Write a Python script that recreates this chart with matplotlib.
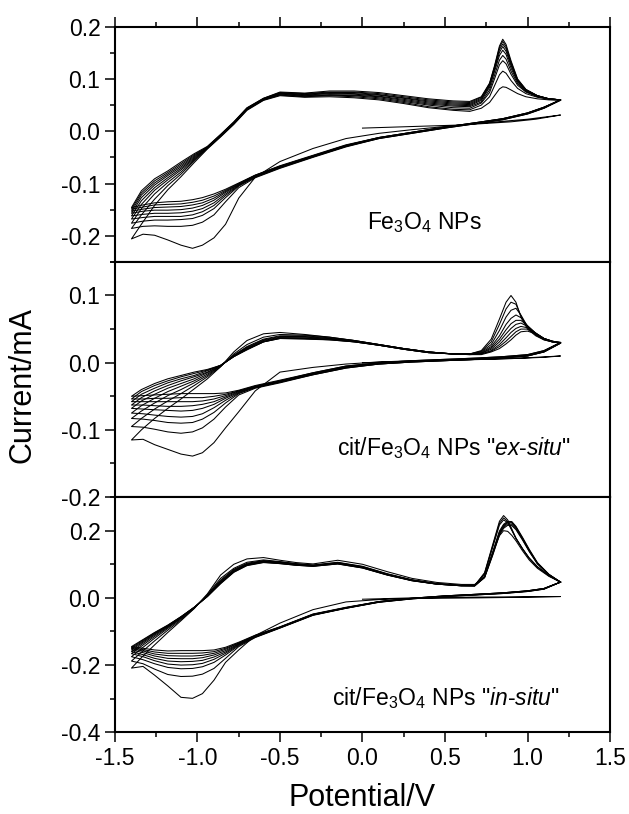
import matplotlib
matplotlib.use('Agg')
import matplotlib.pyplot as plt
from matplotlib.ticker import MultipleLocator, FormatStrFormatter

plt.rcParams['font.family'] = ['Liberation Sans', 'DejaVu Sans']
plt.rcParams['mathtext.fontset'] = 'custom'
plt.rcParams['mathtext.rm'] = 'Liberation Sans'
plt.rcParams['mathtext.it'] = 'Liberation Sans:italic'
plt.rcParams['mathtext.default'] = 'regular'
plt.rcParams['axes.unicode_minus'] = False

# ---------------- top panel: Fe3O4 NPs ----------------
top_E_init = [0.0, 0.3, 0.6, 0.9, 1.05, 1.2]
top_I_init = [0.006, 0.009, 0.012, 0.018, 0.023, 0.031]

top_E_cat = [1.2, 1.1, 1.0, 0.85, 0.7, 0.5, 0.3, 0.1, -0.1, -0.3, -0.5, -0.65,
             -0.75, -0.83, -0.9, -0.97, -1.03, -1.1, -1.18, -1.26, -1.33, -1.4]
top_I_cat = [
    [0.031, 0.027, 0.023, 0.019, 0.015, 0.009, 0.003, -0.004, -0.014, -0.033, -0.058, -0.088,
     -0.128, -0.178, -0.204, -0.218, -0.224, -0.218, -0.208, -0.199, -0.197, -0.206],
    [0.059, 0.044, 0.033, 0.022, 0.015, 0.006, -0.004, -0.014, -0.030, -0.050, -0.071, -0.089,
     -0.108, -0.135, -0.160, -0.174, -0.180, -0.182, -0.182, -0.181, -0.182, -0.186],
    [0.060, 0.044, 0.033, 0.022, 0.015, 0.006, -0.004, -0.014, -0.029, -0.049, -0.070, -0.088,
     -0.105, -0.127, -0.148, -0.161, -0.167, -0.169, -0.170, -0.170, -0.172, -0.176],
    [0.060, 0.045, 0.034, 0.023, 0.016, 0.007, -0.003, -0.013, -0.029, -0.049, -0.069, -0.087,
     -0.104, -0.123, -0.142, -0.154, -0.160, -0.163, -0.163, -0.163, -0.165, -0.168],
    [0.060, 0.045, 0.034, 0.023, 0.016, 0.007, -0.003, -0.013, -0.028, -0.048, -0.068, -0.086,
     -0.103, -0.120, -0.137, -0.148, -0.153, -0.156, -0.157, -0.157, -0.159, -0.162],
    [0.060, 0.045, 0.034, 0.023, 0.016, 0.007, -0.003, -0.013, -0.028, -0.048, -0.068, -0.085,
     -0.102, -0.117, -0.132, -0.142, -0.147, -0.150, -0.151, -0.151, -0.153, -0.157],
    [0.060, 0.046, 0.035, 0.024, 0.017, 0.008, -0.002, -0.012, -0.027, -0.047, -0.067, -0.085,
     -0.101, -0.115, -0.128, -0.137, -0.141, -0.144, -0.145, -0.146, -0.149, -0.153],
    [0.060, 0.046, 0.035, 0.024, 0.017, 0.008, -0.002, -0.012, -0.027, -0.047, -0.067, -0.084,
     -0.100, -0.113, -0.124, -0.132, -0.136, -0.139, -0.140, -0.141, -0.145, -0.149],
    [0.060, 0.046, 0.035, 0.024, 0.017, 0.008, -0.002, -0.012, -0.026, -0.046, -0.066, -0.084,
     -0.099, -0.111, -0.120, -0.127, -0.131, -0.134, -0.135, -0.137, -0.141, -0.146],
]

top_E_an = [-1.4, -1.34, -1.26, -1.18, -1.1, -1.02, -0.94,
            -0.86, -0.78, -0.7, -0.6, -0.5, -0.35, -0.2, -0.05, 0.1, 0.25, 0.4, 0.55, 0.65,
            0.72, 0.77, 0.80, 0.83, 0.85, 0.87, 0.90, 0.94, 0.99, 1.06, 1.13, 1.2]
top_I_an = [
    [-0.206, -0.178, -0.142, -0.112, -0.087, -0.060, -0.034,
     -0.011, 0.013, 0.040, 0.059, 0.068, 0.065, 0.066, 0.064, 0.060, 0.053, 0.045, 0.040, 0.038,
     0.044, 0.055, 0.068, 0.081, 0.085, 0.084, 0.079, 0.072, 0.066, 0.062, 0.060, 0.059],
    [-0.186, -0.160, -0.130, -0.104, -0.082, -0.057, -0.033,
     -0.010, 0.014, 0.041, 0.060, 0.069, 0.066, 0.068, 0.066, 0.062, 0.055, 0.047, 0.042, 0.041,
     0.050, 0.066, 0.087, 0.108, 0.115, 0.111, 0.097, 0.082, 0.072, 0.065, 0.061, 0.060],
    [-0.176, -0.148, -0.120, -0.098, -0.078, -0.055, -0.032,
     -0.009, 0.015, 0.042, 0.060, 0.070, 0.067, 0.069, 0.068, 0.064, 0.057, 0.050, 0.045, 0.044,
     0.054, 0.074, 0.100, 0.127, 0.135, 0.129, 0.109, 0.088, 0.075, 0.066, 0.062, 0.060],
    [-0.168, -0.140, -0.113, -0.093, -0.074, -0.053, -0.032,
     -0.009, 0.015, 0.042, 0.061, 0.071, 0.068, 0.070, 0.069, 0.066, 0.059, 0.052, 0.048, 0.047,
     0.056, 0.079, 0.107, 0.136, 0.145, 0.138, 0.115, 0.091, 0.076, 0.067, 0.062, 0.060],
    [-0.162, -0.133, -0.108, -0.089, -0.071, -0.051, -0.031,
     -0.008, 0.016, 0.043, 0.061, 0.072, 0.069, 0.072, 0.071, 0.067, 0.061, 0.054, 0.050, 0.049,
     0.059, 0.084, 0.114, 0.145, 0.155, 0.147, 0.121, 0.094, 0.077, 0.067, 0.062, 0.060],
    [-0.157, -0.127, -0.103, -0.085, -0.068, -0.049, -0.031,
     -0.008, 0.016, 0.043, 0.062, 0.073, 0.070, 0.073, 0.072, 0.069, 0.063, 0.056, 0.052, 0.051,
     0.061, 0.087, 0.118, 0.151, 0.162, 0.153, 0.126, 0.096, 0.078, 0.068, 0.062, 0.060],
    [-0.153, -0.122, -0.099, -0.082, -0.065, -0.047, -0.030,
     -0.007, 0.017, 0.044, 0.062, 0.073, 0.071, 0.074, 0.074, 0.070, 0.064, 0.058, 0.054, 0.053,
     0.063, 0.089, 0.121, 0.156, 0.167, 0.158, 0.129, 0.097, 0.079, 0.068, 0.062, 0.060],
    [-0.149, -0.118, -0.095, -0.079, -0.062, -0.045, -0.030,
     -0.007, 0.017, 0.044, 0.063, 0.074, 0.072, 0.075, 0.075, 0.072, 0.066, 0.060, 0.056, 0.055,
     0.065, 0.091, 0.123, 0.160, 0.172, 0.162, 0.132, 0.099, 0.080, 0.068, 0.062, 0.060],
    [-0.146, -0.114, -0.091, -0.076, -0.059, -0.043, -0.029,
     -0.006, 0.018, 0.045, 0.063, 0.075, 0.073, 0.077, 0.077, 0.074, 0.068, 0.062, 0.058, 0.057,
     0.066, 0.092, 0.125, 0.163, 0.176, 0.166, 0.135, 0.100, 0.080, 0.068, 0.062, 0.060],
]

# ---------------- middle panel: cit/Fe3O4 "ex-situ" ----------------
mid_E_init = [0.0, 0.3, 0.6, 0.9, 1.2]
mid_I_init = [0.000, 0.002, 0.004, 0.006, 0.010]

mid_E_cat = [1.2, 1.1, 1.0, 0.85, 0.7, 0.5, 0.3, 0.1, -0.1, -0.3, -0.5, -0.65,
             -0.75, -0.83, -0.9, -0.97, -1.03, -1.1, -1.18, -1.26, -1.33, -1.4]
mid_I_cat = [
    [0.010, 0.008, 0.007, 0.006, 0.005, 0.004, 0.003, 0.001, -0.002, -0.007, -0.014, -0.042,
     -0.073, -0.097, -0.119, -0.134, -0.139, -0.136, -0.129, -0.122, -0.114, -0.115],
    [0.029, 0.016, 0.010, 0.007, 0.005, 0.003, 0.001, -0.002, -0.008, -0.018, -0.030, -0.038,
     -0.048, -0.066, -0.084, -0.097, -0.103, -0.105, -0.103, -0.099, -0.096, -0.095],
    [0.029, 0.016, 0.010, 0.007, 0.005, 0.003, 0.001, -0.002, -0.008, -0.018, -0.029, -0.037,
     -0.046, -0.060, -0.074, -0.084, -0.089, -0.090, -0.089, -0.086, -0.084, -0.083],
    [0.029, 0.016, 0.010, 0.007, 0.005, 0.003, 0.001, -0.002, -0.007, -0.017, -0.029, -0.037,
     -0.045, -0.056, -0.067, -0.076, -0.080, -0.081, -0.080, -0.078, -0.076, -0.075],
    [0.030, 0.017, 0.011, 0.008, 0.006, 0.004, 0.002, -0.001, -0.007, -0.017, -0.028, -0.036,
     -0.044, -0.053, -0.062, -0.068, -0.071, -0.072, -0.071, -0.070, -0.069, -0.068],
    [0.030, 0.017, 0.011, 0.008, 0.006, 0.004, 0.002, -0.001, -0.006, -0.016, -0.028, -0.036,
     -0.043, -0.051, -0.058, -0.062, -0.064, -0.065, -0.065, -0.064, -0.063, -0.063],
    [0.030, 0.017, 0.011, 0.008, 0.006, 0.004, 0.002, -0.001, -0.006, -0.016, -0.027, -0.035,
     -0.042, -0.049, -0.054, -0.057, -0.058, -0.058, -0.058, -0.058, -0.058, -0.058],
    [0.030, 0.018, 0.012, 0.009, 0.007, 0.005, 0.003, 0.000, -0.005, -0.015, -0.027, -0.035,
     -0.042, -0.047, -0.050, -0.052, -0.052, -0.052, -0.053, -0.053, -0.054, -0.054],
    [0.030, 0.018, 0.012, 0.009, 0.007, 0.005, 0.003, 0.000, -0.005, -0.015, -0.026, -0.034,
     -0.041, -0.045, -0.046, -0.046, -0.046, -0.046, -0.047, -0.048, -0.049, -0.050],
]

mid_E_an = [-1.4, -1.34, -1.26, -1.18, -1.1, -1.02, -0.94,
            -0.86, -0.78, -0.7, -0.6, -0.5, -0.35, -0.2, -0.05, 0.1, 0.25, 0.4, 0.55, 0.65,
            0.72, 0.78, 0.83, 0.87, 0.90, 0.93, 0.96, 1.0, 1.05, 1.1, 1.15, 1.2]
mid_I_an = [
    [-0.115, -0.100, -0.083, -0.068, -0.054, -0.039, -0.024,
     -0.006, 0.016, 0.033, 0.043, 0.045, 0.042, 0.038, 0.033, 0.027, 0.021, 0.016, 0.013, 0.012,
     0.012, 0.016, 0.021, 0.028, 0.034, 0.041, 0.046, 0.047, 0.043, 0.036, 0.031, 0.029],
    [-0.095, -0.083, -0.069, -0.057, -0.046, -0.034, -0.021,
     -0.006, 0.013, 0.027, 0.038, 0.042, 0.041, 0.038, 0.033, 0.027, 0.021, 0.016, 0.013, 0.012,
     0.013, 0.017, 0.024, 0.032, 0.039, 0.046, 0.050, 0.050, 0.043, 0.036, 0.032, 0.029],
    [-0.083, -0.072, -0.060, -0.049, -0.040, -0.030, -0.019,
     -0.005, 0.011, 0.024, 0.035, 0.040, 0.040, 0.037, 0.033, 0.027, 0.021, 0.016, 0.013, 0.013,
     0.013, 0.018, 0.027, 0.037, 0.045, 0.051, 0.054, 0.052, 0.044, 0.036, 0.032, 0.029],
    [-0.075, -0.064, -0.053, -0.043, -0.035, -0.027, -0.017,
     -0.005, 0.011, 0.023, 0.034, 0.039, 0.039, 0.036, 0.032, 0.027, 0.021, 0.016, 0.013, 0.013,
     0.014, 0.020, 0.031, 0.043, 0.051, 0.057, 0.059, 0.054, 0.044, 0.036, 0.032, 0.030],
    [-0.068, -0.057, -0.047, -0.038, -0.031, -0.024, -0.015,
     -0.005, 0.010, 0.022, 0.033, 0.038, 0.038, 0.036, 0.032, 0.026, 0.021, 0.016, 0.013, 0.013,
     0.014, 0.022, 0.035, 0.049, 0.058, 0.063, 0.063, 0.055, 0.044, 0.036, 0.032, 0.030],
    [-0.063, -0.052, -0.042, -0.034, -0.027, -0.021, -0.014,
     -0.004, 0.010, 0.021, 0.032, 0.037, 0.037, 0.035, 0.032, 0.026, 0.020, 0.015, 0.013, 0.013,
     0.015, 0.024, 0.040, 0.057, 0.066, 0.071, 0.067, 0.055, 0.043, 0.035, 0.031, 0.030],
    [-0.058, -0.047, -0.038, -0.030, -0.024, -0.019, -0.012,
     -0.004, 0.009, 0.020, 0.031, 0.037, 0.036, 0.035, 0.031, 0.026, 0.020, 0.015, 0.013, 0.013,
     0.016, 0.027, 0.048, 0.068, 0.078, 0.081, 0.071, 0.054, 0.042, 0.035, 0.031, 0.030],
    [-0.054, -0.043, -0.034, -0.027, -0.021, -0.016, -0.011,
     -0.004, 0.009, 0.020, 0.031, 0.036, 0.036, 0.034, 0.031, 0.026, 0.020, 0.015, 0.013, 0.013,
     0.017, 0.031, 0.057, 0.080, 0.090, 0.087, 0.070, 0.052, 0.041, 0.034, 0.031, 0.030],
    [-0.050, -0.040, -0.031, -0.024, -0.019, -0.014, -0.010,
     -0.004, 0.009, 0.019, 0.031, 0.036, 0.035, 0.034, 0.031, 0.026, 0.020, 0.015, 0.013, 0.013,
     0.018, 0.035, 0.065, 0.090, 0.100, 0.090, 0.068, 0.050, 0.040, 0.034, 0.031, 0.030],
]

# ---------------- bottom panel: cit/Fe3O4 "in-situ" ----------------
bot_E_init = [0.0, 0.3, 0.6, 0.9, 1.2]
bot_I_init = [-0.004, 0.000, 0.002, 0.003, 0.004]

bot_E_cat = [1.2, 1.1, 1.0, 0.85, 0.7, 0.5, 0.3, 0.1, -0.1, -0.3, -0.5, -0.65,
             -0.75, -0.83, -0.9, -0.97, -1.03, -1.1, -1.18, -1.26, -1.33, -1.4]
bot_I_cat = [
    [0.004, 0.003, 0.002, 0.001, 0.000, -0.001, -0.002, -0.005, -0.012, -0.035, -0.075, -0.112,
     -0.155, -0.192, -0.245, -0.285, -0.299, -0.296, -0.262, -0.230, -0.204, -0.209],
    [0.047, 0.026, 0.019, 0.013, 0.009, 0.004, -0.003, -0.013, -0.031, -0.052, -0.090, -0.118,
     -0.145, -0.180, -0.210, -0.227, -0.233, -0.234, -0.228, -0.212, -0.196, -0.188],
    [0.047, 0.026, 0.019, 0.013, 0.009, 0.004, -0.003, -0.013, -0.031, -0.051, -0.089, -0.117,
     -0.142, -0.170, -0.192, -0.205, -0.210, -0.211, -0.207, -0.196, -0.184, -0.175],
    [0.047, 0.027, 0.020, 0.014, 0.010, 0.005, -0.002, -0.012, -0.030, -0.051, -0.089, -0.116,
     -0.140, -0.165, -0.183, -0.195, -0.199, -0.200, -0.197, -0.187, -0.175, -0.166],
    [0.047, 0.027, 0.020, 0.014, 0.010, 0.005, -0.002, -0.012, -0.030, -0.050, -0.088, -0.115,
     -0.138, -0.161, -0.176, -0.186, -0.189, -0.190, -0.188, -0.180, -0.169, -0.160],
    [0.047, 0.027, 0.020, 0.014, 0.010, 0.005, -0.002, -0.012, -0.030, -0.050, -0.088, -0.114,
     -0.137, -0.157, -0.170, -0.178, -0.181, -0.181, -0.180, -0.173, -0.163, -0.155],
    [0.047, 0.028, 0.021, 0.015, 0.011, 0.006, -0.001, -0.011, -0.029, -0.049, -0.087, -0.113,
     -0.135, -0.153, -0.165, -0.171, -0.173, -0.173, -0.172, -0.167, -0.158, -0.151],
    [0.047, 0.028, 0.021, 0.015, 0.011, 0.006, -0.001, -0.011, -0.029, -0.049, -0.087, -0.112,
     -0.134, -0.150, -0.160, -0.164, -0.165, -0.165, -0.165, -0.161, -0.154, -0.148],
    [0.047, 0.028, 0.021, 0.015, 0.011, 0.006, -0.001, -0.011, -0.028, -0.048, -0.086, -0.111,
     -0.132, -0.147, -0.155, -0.157, -0.157, -0.157, -0.158, -0.155, -0.150, -0.145],
]

bot_E_an = [-1.4, -1.34, -1.26, -1.18, -1.1, -1.02, -0.94,
            -0.86, -0.78, -0.7, -0.6, -0.5, -0.4, -0.3, -0.15, 0.0, 0.15, 0.3, 0.45, 0.6,
            0.68, 0.74, 0.79, 0.83, 0.855, 0.88, 0.905, 0.93, 0.97, 1.01, 1.06, 1.13, 1.2]
bot_I_an = [
    [-0.209, -0.178, -0.140, -0.103, -0.068, -0.032, 0.012,
     0.068, 0.100, 0.116, 0.120, 0.112, 0.105, 0.101, 0.112, 0.100, 0.078, 0.058, 0.046, 0.040,
     0.040, 0.064, 0.135, 0.185, 0.200, 0.198, 0.186, 0.170, 0.140, 0.113, 0.088, 0.064, 0.047],
    [-0.188, -0.162, -0.128, -0.096, -0.065, -0.031, 0.010,
     0.058, 0.088, 0.106, 0.113, 0.108, 0.102, 0.098, 0.106, 0.094, 0.072, 0.054, 0.043, 0.037,
     0.037, 0.075, 0.160, 0.228, 0.245, 0.232, 0.205, 0.178, 0.146, 0.118, 0.092, 0.066, 0.047],
    [-0.175, -0.151, -0.120, -0.091, -0.062, -0.030, 0.008,
     0.053, 0.085, 0.103, 0.111, 0.107, 0.101, 0.097, 0.105, 0.093, 0.071, 0.053, 0.042, 0.037,
     0.037, 0.073, 0.156, 0.222, 0.238, 0.227, 0.202, 0.177, 0.146, 0.118, 0.092, 0.066, 0.047],
    [-0.166, -0.144, -0.115, -0.088, -0.060, -0.030, 0.007,
     0.050, 0.083, 0.101, 0.110, 0.106, 0.100, 0.096, 0.104, 0.092, 0.070, 0.053, 0.042, 0.037,
     0.036, 0.071, 0.152, 0.217, 0.232, 0.224, 0.201, 0.177, 0.146, 0.119, 0.093, 0.066, 0.047],
    [-0.160, -0.139, -0.111, -0.086, -0.059, -0.029, 0.006,
     0.048, 0.081, 0.100, 0.109, 0.105, 0.099, 0.096, 0.103, 0.091, 0.070, 0.052, 0.042, 0.037,
     0.036, 0.064, 0.138, 0.199, 0.219, 0.228, 0.227, 0.213, 0.180, 0.145, 0.105, 0.070, 0.047],
    [-0.155, -0.135, -0.108, -0.084, -0.058, -0.029, 0.005,
     0.046, 0.079, 0.099, 0.108, 0.104, 0.098, 0.095, 0.103, 0.091, 0.069, 0.052, 0.041, 0.036,
     0.036, 0.063, 0.135, 0.196, 0.216, 0.226, 0.225, 0.211, 0.178, 0.143, 0.104, 0.070, 0.047],
    [-0.151, -0.132, -0.106, -0.083, -0.057, -0.028, 0.005,
     0.045, 0.078, 0.098, 0.107, 0.103, 0.098, 0.095, 0.102, 0.090, 0.069, 0.052, 0.041, 0.036,
     0.036, 0.062, 0.133, 0.193, 0.213, 0.224, 0.223, 0.209, 0.176, 0.141, 0.103, 0.069, 0.047],
    [-0.148, -0.129, -0.104, -0.082, -0.056, -0.028, 0.004,
     0.043, 0.077, 0.097, 0.106, 0.102, 0.097, 0.094, 0.101, 0.089, 0.068, 0.051, 0.041, 0.036,
     0.036, 0.061, 0.130, 0.190, 0.210, 0.220, 0.219, 0.206, 0.174, 0.140, 0.102, 0.069, 0.047],
    [-0.145, -0.127, -0.103, -0.081, -0.056, -0.028, 0.004,
     0.042, 0.076, 0.096, 0.105, 0.102, 0.097, 0.094, 0.101, 0.089, 0.068, 0.051, 0.041, 0.036,
     0.036, 0.060, 0.128, 0.187, 0.207, 0.216, 0.215, 0.203, 0.172, 0.138, 0.101, 0.068, 0.047],
]

labels = ['Fe$_3$O$_4$ NPs',
          'cit/Fe$_3$O$_4$ NPs "$\\mathit{ex}$-$\\mathit{situ}$"',
          'cit/Fe$_3$O$_4$ NPs "$\\mathit{in}$-$\\mathit{situ}$"']
label_pos = [(0.025, -0.188), (-0.156, -0.137), (-0.187, -0.318)]
ylims = [(-0.25, 0.2), (-0.2, 0.15), (-0.4, 0.3)]
ymajor = [0.1, 0.1, 0.2]

panels = [
    (top_E_init, top_I_init, top_E_cat, top_I_cat, top_E_an, top_I_an),
    (mid_E_init, mid_I_init, mid_E_cat, mid_I_cat, mid_E_an, mid_I_an),
    (bot_E_init, bot_I_init, bot_E_cat, bot_I_cat, bot_E_an, bot_I_an),
]

fig = plt.figure(figsize=(6.29, 8.14), dpi=100)
h = 0.28893
bottoms = [0.1004 + 2 * h, 0.1004 + h, 0.1004]

for i, (Ei, Ii, Ec, Ic, Ea, Ia) in enumerate(panels):
    ax = fig.add_axes([0.1828, bottoms[i], 0.787, h])
    # first cycle starts from the initial anodic scan
    ax.plot(Ei + Ec + Ea, Ii + Ic[0] + Ia[0], color='k', lw=0.75)
    for k in range(1, len(Ic)):
        ax.plot(Ec + Ea, Ic[k] + Ia[k], color='k', lw=0.75)

    ax.set_xlim(-1.5, 1.5)
    ax.set_ylim(*ylims[i])
    ax.xaxis.set_major_locator(MultipleLocator(0.5))
    ax.xaxis.set_minor_locator(MultipleLocator(0.25))
    ax.yaxis.set_major_locator(MultipleLocator(ymajor[i]))
    ax.yaxis.set_minor_locator(MultipleLocator(ymajor[i] / 2))
    ax.xaxis.set_major_formatter(FormatStrFormatter('%.1f'))
    ax.yaxis.set_major_formatter(FormatStrFormatter('%.1f'))
    ax.tick_params(which='both', direction='out', top=(i == 0), right=False,
                   labelbottom=(i == 2), labelsize=16.5, width=1.1)
    ax.tick_params(which='major', length=7, pad=3.5)
    ax.tick_params(which='minor', length=3.5)
    for s in ax.spines.values():
        s.set_linewidth(1.5)

    ax.text(label_pos[i][0], label_pos[i][1], labels[i], fontsize=16.5,
            ha='left', va='baseline')

fig.text(0.012, 0.527, 'Current/mA', rotation=90, ha='left', va='center', fontsize=22)
fig.text(0.5763, 0.010, 'Potential/V', ha='center', va='baseline', fontsize=22)

fig.savefig('out.png', dpi=100)
